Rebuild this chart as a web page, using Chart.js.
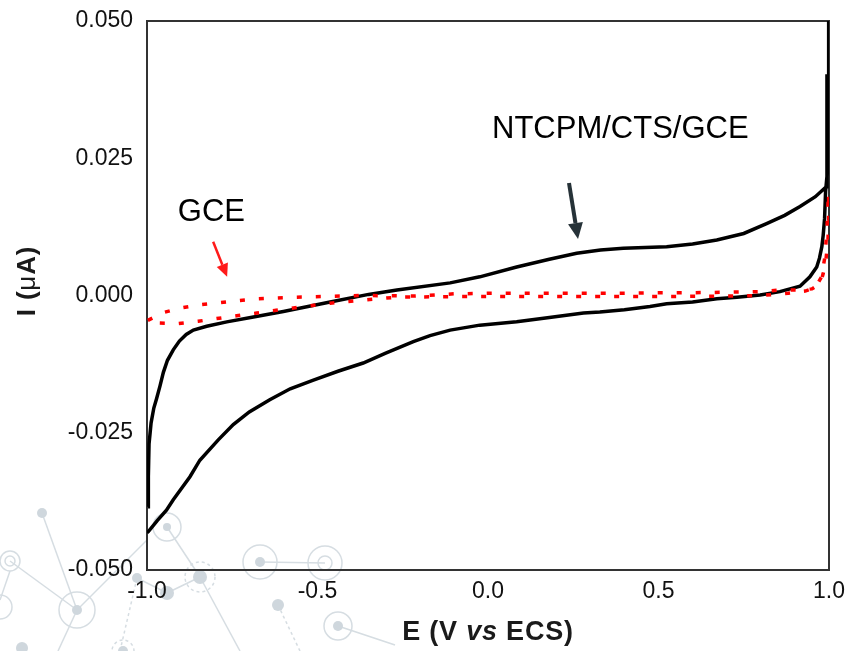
<!DOCTYPE html>
<html>
<head>
<meta charset="utf-8">
<script src="https://cdn.jsdelivr.net/npm/chart.js@4.4.0/dist/chart.umd.min.js"></script>
<style>
  html, body { margin: 0; padding: 0; background: #fff; }
  #wrap { width: 846px; height: 651px; }
</style>
</head>
<body>
<div id="wrap"><canvas id="cvChart" width="846" height="651"></canvas></div>
<script>
// Axis ticks
const xTickValues = [-1.0, -0.5, 0.0, 0.5, 1.0];
const yTickValues = [-0.050, -0.025, 0.000, 0.025, 0.050];

// NTCPM/CTS/GCE voltammogram (E in V, I in uA), forward then reverse scan
const ntcpmE = [-0.997, -0.996, -0.994, -0.988, -0.980, -0.972, -0.962, -0.952, -0.940, -0.923,
  -0.905, -0.885, -0.864, -0.825, -0.766, -0.688, -0.600, -0.463, -0.350, -0.267,
  -0.111, -0.024, 0.084, 0.180, 0.260, 0.330, 0.397, 0.524, 0.600, 0.671,
  0.750, 0.817, 0.870, 0.915, 0.960, 0.992,
  0.994, 0.999, 0.999, 0.999,
  0.990, 0.987, 0.983, 0.979, 0.972, 0.964, 0.944, 0.915, 0.856, 0.798,
  0.730, 0.671, 0.600, 0.524, 0.475, 0.400, 0.328, 0.280, 0.180, 0.084,
  -0.024, -0.111, -0.170, -0.219, -0.300, -0.366, -0.440, -0.512, -0.580, -0.640,
  -0.700, -0.747, -0.791, -0.845, -0.874, -0.923, -0.943, -0.970, -0.996, -1.000];
const ntcpmI = [-0.0385, -0.0330, -0.0270, -0.0232, -0.0205, -0.0188, -0.0165, -0.0140, -0.0118, -0.0099,
  -0.0083, -0.0071, -0.0063, -0.0056, -0.0048, -0.0039, -0.0029, -0.0012, 0.0002, 0.0010,
  0.0023, 0.0034, 0.0052, 0.0066, 0.0077, 0.0083, 0.0086, 0.0089, 0.0094, 0.0101,
  0.0113, 0.0131, 0.0146, 0.0162, 0.0180, 0.0198,
  0.0400, 0.0400, 0.0600, 0.0250,
  0.0190, 0.0140, 0.0110, 0.0089, 0.0068, 0.0052, 0.0034, 0.0017, 0.0007, 0.0001,
  -0.0003, -0.0006, -0.0012, -0.0015, -0.0020, -0.0026, -0.0030, -0.0032, -0.0040, -0.0048,
  -0.0054, -0.0063, -0.0073, -0.0084, -0.0105, -0.0123, -0.0138, -0.0154, -0.0170, -0.0190,
  -0.0212, -0.0235, -0.0263, -0.0300, -0.0330, -0.0372, -0.0391, -0.0410, -0.0430, -0.0432];

// bare GCE voltammogram
const gceE = [0.999, 0.999, 0.997, 0.991, 0.983, 0.975, 0.950, 0.915, 0.856, 0.798,
  0.700, 0.600, 0.500, 0.400, 0.300, 0.200, 0.100, 0.000, -0.100, -0.219,
  -0.366, -0.561, -0.678, -0.727, -0.786, -0.845, -0.903, -0.952, -1.000,
  -0.972, -0.908, -0.850, -0.796, -0.737, -0.678, -0.610, -0.463, -0.268, -0.100,
  0.100, 0.300, 0.500, 0.700, 0.800, 0.880, 0.930, 0.960, 0.978, 0.988,
  0.994, 0.998];
const gceI = [0.0180, 0.0138, 0.0101, 0.0065, 0.0040, 0.0022, 0.0012, 0.0010, 0.0010, 0.0007,
  0.0006, 0.0005, 0.0005, 0.0004, 0.0004, 0.0004, 0.0004, 0.0004, 0.0003, -0.0001,
  0.0000, -0.0003, -0.0006, -0.0009, -0.0013, -0.0017, -0.0023, -0.0031, -0.0046,
  -0.0050, -0.0051, -0.0047, -0.0042, -0.0037, -0.0032, -0.0026, -0.0014, -0.0003, -0.0002,
  -0.0002, -0.0002, -0.0002, -0.0001, 0.0000, 0.0004, 0.0008, 0.0014, 0.0034, 0.0070,
  0.0120, 0.0180];

function toPoints(xs, ys) {
    return xs.map((x, i) => ({ x: x, y: ys[i] }));
}

const FONT = '"Liberation Sans", Arial, sans-serif';

// light grey molecule decoration in the lower left corner
const bgNetwork = {
    id: 'bgNetwork',
    beforeDraw(chart) {
        const ctx = chart.ctx;
        ctx.save();
        ctx.fillStyle = '#ffffff';
        ctx.fillRect(0, 0, chart.width, chart.height);
        ctx.strokeStyle = '#d6dde2';
        ctx.lineWidth = 1.5;
        const lines = [[42, 513, 77, 610], [10, 561, 77, 610], [77, 610, 147, 540], [77, 610, 58, 651],
            [167, 527, 200, 577], [200, 577, 240, 651], [260, 562, 325, 563], [338, 626, 395, 645],
            [137, 578, 167, 593], [167, 593, 200, 577], [0, 600, 10, 571]];
        lines.forEach(l => { ctx.beginPath(); ctx.moveTo(l[0], l[1]); ctx.lineTo(l[2], l[3]); ctx.stroke(); });
        ctx.setLineDash([3, 3]);
        [[278, 605, 300, 651], [137, 578, 120, 651]].forEach(l => {
            ctx.beginPath(); ctx.moveTo(l[0], l[1]); ctx.lineTo(l[2], l[3]); ctx.stroke();
        });
        ctx.beginPath(); ctx.arc(200, 577, 15, 0, Math.PI * 2); ctx.stroke();
        ctx.beginPath(); ctx.arc(123, 651, 11, 0, Math.PI * 2); ctx.stroke();
        ctx.setLineDash([]);
        const rings = [[10, 561, 10], [10, 561, 5], [77, 610, 18], [167, 527, 14], [260, 562, 17],
            [325, 563, 17], [325, 563, 7], [338, 626, 14], [0, 607, 12]];
        rings.forEach(r => { ctx.beginPath(); ctx.arc(r[0], r[1], r[2], 0, Math.PI * 2); ctx.stroke(); });
        ctx.fillStyle = '#cfd7dd';
        const dots = [[42, 513, 5], [77, 610, 5], [167, 527, 4], [200, 577, 7], [260, 562, 5],
            [278, 605, 6], [338, 626, 5], [167, 593, 7], [137, 578, 5], [22, 648, 6], [123, 651, 5]];
        dots.forEach(d => { ctx.beginPath(); ctx.arc(d[0], d[1], d[2], 0, Math.PI * 2); ctx.fill(); });
        ctx.restore();
    }
};

// plot frame
const frame = {
    id: 'frame',
    beforeDatasetsDraw(chart) {
        const a = chart.chartArea;
        const ctx = chart.ctx;
        ctx.save();
        ctx.strokeStyle = '#333333';
        ctx.lineWidth = 2;
        ctx.strokeRect(a.left, a.top, a.right - a.left, a.bottom - a.top);
        ctx.restore();
    }
};

// draw text made of parts with different fonts, centred on cx
function drawParts(ctx, parts, cx, cy, spacing) {
    ctx.letterSpacing = spacing + 'px';
    let total = 0;
    parts.forEach(p => { ctx.font = p.font; p.w = ctx.measureText(p.text).width; total += p.w; });
    let x = cx - total / 2;
    ctx.textAlign = 'left';
    ctx.textBaseline = 'middle';
    parts.forEach(p => { ctx.font = p.font; ctx.fillText(p.text, x, cy); x += p.w; });
    ctx.letterSpacing = '0px';
}

function arrow(ctx, x1, y1, x2, y2, width, headLen, headW, color) {
    const ang = Math.atan2(y2 - y1, x2 - x1);
    const bx = x2 - headLen * Math.cos(ang), by = y2 - headLen * Math.sin(ang);
    ctx.strokeStyle = color;
    ctx.fillStyle = color;
    ctx.lineWidth = width;
    ctx.beginPath(); ctx.moveTo(x1, y1); ctx.lineTo(bx, by); ctx.stroke();
    ctx.beginPath();
    ctx.moveTo(x2, y2);
    ctx.lineTo(bx + headW / 2 * Math.sin(ang), by - headW / 2 * Math.cos(ang));
    ctx.lineTo(bx - headW / 2 * Math.sin(ang), by + headW / 2 * Math.cos(ang));
    ctx.closePath(); ctx.fill();
}

const annotations = {
    id: 'annotations',
    afterDraw(chart) {
        const ctx = chart.ctx;
        const xs = chart.scales.x, ys = chart.scales.y;
        const px = v => xs.getPixelForValue(v), py = v => ys.getPixelForValue(v);
        ctx.save();
        ctx.fillStyle = '#000';
        ctx.font = '31px ' + FONT;
        ctx.textAlign = 'center';
        ctx.textBaseline = 'middle';
        ctx.fillText('GCE', px(-0.811), py(0.0152));
        ctx.fillText('NTCPM/CTS/GCE', px(0.388), py(0.0302));
        arrow(ctx, px(-0.806), py(0.0098), px(-0.765), py(0.0034), 2.5, 13, 12, '#ff1a1a');
        arrow(ctx, px(0.2375), py(0.0205), px(0.264), py(0.0103), 4, 16, 15, '#263238');

        // axis titles
        ctx.fillStyle = '#1a1a1a';
        const a = chart.chartArea;
        drawParts(ctx, [
            { text: 'E (V ', font: 'bold 27px ' + FONT },
            { text: 'vs', font: 'italic bold 27px ' + FONT },
            { text: ' ECS)', font: 'bold 27px ' + FONT }
        ], (a.left + a.right) / 2, 633, 0.8);
        ctx.translate(28, 281);
        ctx.rotate(-Math.PI / 2);
        drawParts(ctx, [
            { text: 'I (', font: 'bold 26px ' + FONT },
            { text: 'μ', font: '26px ' + FONT },
            { text: 'A)', font: 'bold 26px ' + FONT }
        ], 0, 0, 0.8);
        ctx.restore();
    }
};

// keep tick labels from pushing the plot area inward
function noPadding(s) {
    s.paddingTop = 0; s.paddingBottom = 0; s.paddingLeft = 0; s.paddingRight = 0;
}

const chartCtx = document.getElementById('cvChart').getContext('2d');
const cvChart = new Chart(chartCtx, {
    type: 'scatter',
    data: {
        datasets: [{
            label: 'GCE',
            data: toPoints(gceE, gceI),
            showLine: true,
            borderColor: '#ff0000',
            borderWidth: 3.5,
            borderDash: [5, 14],
            pointRadius: 0,
            tension: 0
        }, {
            label: 'NTCPM/CTS/GCE',
            data: toPoints(ntcpmE, ntcpmI),
            showLine: true,
            borderColor: '#000000',
            borderWidth: 3.5,
            pointRadius: 0,
            tension: 0
        }]
    },
    options: {
        responsive: false,
        animation: false,
        devicePixelRatio: 1,
        layout: { padding: { left: 0, right: 17, top: 21, bottom: 0 } },
        plugins: {
            legend: { display: false },
            tooltip: { enabled: false }
        },
        scales: {
            x: {
                type: 'linear',
                min: -1,
                max: 1,
                afterBuildTicks: s => { s.ticks = xTickValues.map(v => ({ value: v })); },
                afterFit: s => { s.height = 81; noPadding(s); },
                grid: { display: false, drawTicks: false },
                border: { display: false },
                ticks: {
                    padding: 8,
                    color: '#111',
                    font: { family: FONT, size: 23 },
                    callback: v => Number(v).toFixed(1)
                }
            },
            y: {
                type: 'linear',
                min: -0.05,
                max: 0.05,
                afterBuildTicks: s => { s.ticks = yTickValues.map(v => ({ value: v })); },
                afterFit: s => { s.width = 147; noPadding(s); },
                grid: { display: false, drawTicks: false },
                border: { display: false },
                ticks: {
                    padding: 14,
                    color: '#111',
                    font: { family: FONT, size: 23 },
                    callback: v => Number(v).toFixed(3)
                }
            }
        }
    },
    plugins: [bgNetwork, frame, annotations]
});
</script>
</body>
</html>
